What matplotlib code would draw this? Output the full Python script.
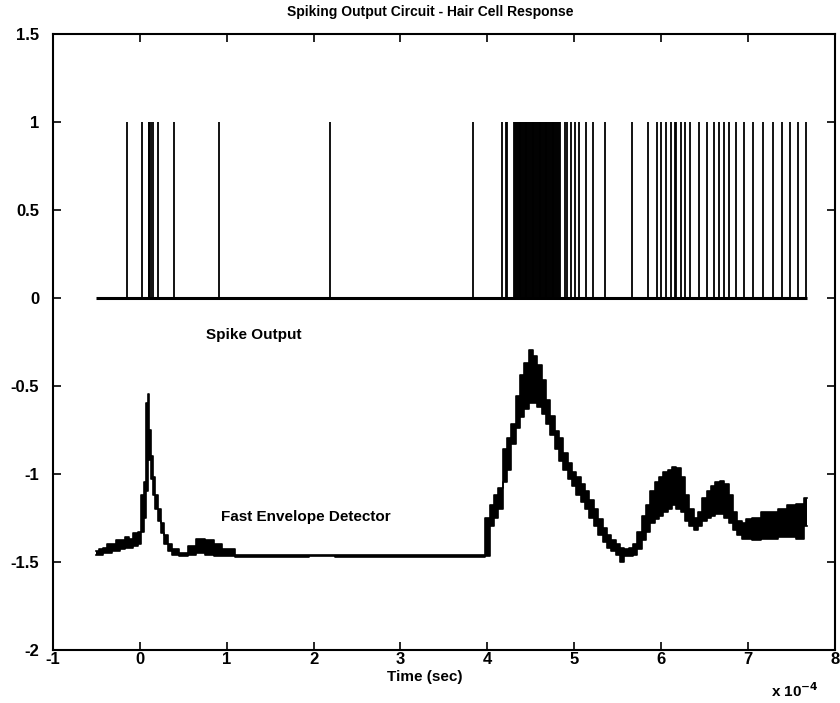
import numpy as np
import matplotlib
matplotlib.use("Agg")
import matplotlib.pyplot as plt

plt.rcParams['font.family'] = ['Liberation Sans', 'DejaVu Sans']
plt.rcParams['font.weight'] = 'bold'
plt.rcParams['axes.unicode_minus'] = False

# spike output (time in units of 1e-4 s)
spike_start = -0.5
spike_end = 7.68
spike_times = [
    -0.15, 0.02, 0.10, 0.11, 0.13, 0.155, 0.215, 0.39, 0.915, 2.19,
    3.84, 4.165, 4.21, 4.23,
    4.31, 4.32, 4.33, 4.34, 4.35, 4.36, 4.37, 4.38, 4.39, 4.40,
    4.41, 4.42, 4.43, 4.44, 4.45, 4.46, 4.47, 4.48, 4.49, 4.50,
    4.51, 4.52, 4.53, 4.54, 4.55, 4.56, 4.57, 4.58, 4.59, 4.60,
    4.61, 4.62, 4.63, 4.64, 4.65, 4.66, 4.67, 4.68, 4.69, 4.70,
    4.71, 4.72, 4.73, 4.74, 4.75, 4.76, 4.77, 4.78, 4.79, 4.80,
    4.81, 4.825, 4.84,
    4.895, 4.915, 4.96, 5.005, 5.055, 5.135, 5.215, 5.35, 5.665, 5.845,
    5.95, 6.0, 6.06, 6.11, 6.155, 6.17, 6.225, 6.275, 6.335, 6.435,
    6.525, 6.605, 6.66, 6.72, 6.78, 6.865, 6.95, 7.055, 7.17, 7.29,
    7.385, 7.48, 7.575, 7.67,
]
spike_height = 1.0

# fast envelope detector: lower / upper edge of the noisy trace
env_t = [
    -0.50, -0.45, -0.40, -0.35, -0.30, -0.25, -0.20, -0.15, -0.10, -0.05,
    0.00, 0.03, 0.06, 0.08, 0.10, 0.12, 0.14, 0.16, 0.19, 0.22,
    0.26, 0.30, 0.35, 0.40, 0.50, 0.60, 0.70, 0.80, 0.90, 1.00,
    1.20, 1.50, 1.80, 2.10, 2.40, 2.70, 3.00, 3.30, 3.60, 3.95,
    4.00, 4.05, 4.10, 4.15, 4.20, 4.25, 4.30, 4.35, 4.40, 4.45,
    4.50, 4.55, 4.60, 4.65, 4.70, 4.75, 4.80, 4.85, 4.90, 4.95,
    5.00, 5.05, 5.10, 5.15, 5.20, 5.25, 5.30, 5.35, 5.40, 5.45,
    5.50, 5.55, 5.60, 5.65, 5.70, 5.75, 5.80, 5.85, 5.90, 5.95,
    6.00, 6.05, 6.10, 6.15, 6.20, 6.25, 6.30, 6.35, 6.40, 6.45,
    6.50, 6.55, 6.60, 6.65, 6.70, 6.75, 6.80, 6.85, 6.90, 6.95,
    7.00, 7.10, 7.20, 7.30, 7.40, 7.50, 7.60, 7.68,
]
env_lo = [
    -1.46, -1.46, -1.45, -1.45, -1.44, -1.44, -1.43, -1.42, -1.42, -1.41,
    -1.40, -1.33, -1.25, -1.10, -0.75, -0.92, -1.03, -1.12, -1.20, -1.27,
    -1.34, -1.40, -1.44, -1.46, -1.47, -1.46, -1.45, -1.46, -1.47, -1.47,
    -1.475, -1.475, -1.475, -1.47, -1.475, -1.475, -1.475, -1.475, -1.475, -1.475,
    -1.47, -1.30, -1.25, -1.20, -1.05, -0.98, -0.83, -0.74, -0.68, -0.63,
    -0.60, -0.60, -0.62, -0.66, -0.72, -0.78, -0.86, -0.93, -0.98, -1.03,
    -1.07, -1.12, -1.16, -1.20, -1.25, -1.30, -1.35, -1.39, -1.42, -1.44,
    -1.46, -1.50, -1.47, -1.47, -1.46, -1.43, -1.38, -1.33, -1.28, -1.26,
    -1.24, -1.22, -1.20, -1.18, -1.20, -1.22, -1.27, -1.30, -1.32, -1.30,
    -1.27, -1.25, -1.24, -1.23, -1.23, -1.25, -1.28, -1.32, -1.35, -1.37,
    -1.37, -1.38, -1.37, -1.37, -1.36, -1.36, -1.37, -1.30,
]
env_hi = [
    -1.44, -1.43, -1.42, -1.40, -1.40, -1.38, -1.38, -1.36, -1.37, -1.34,
    -1.33, -1.12, -1.05, -0.60, -0.55, -0.75, -0.90, -1.02, -1.12, -1.20,
    -1.28, -1.35, -1.40, -1.43, -1.45, -1.41, -1.37, -1.38, -1.40, -1.43,
    -1.465, -1.465, -1.465, -1.46, -1.465, -1.465, -1.465, -1.465, -1.465, -1.46,
    -1.25, -1.18, -1.12, -1.08, -0.86, -0.80, -0.72, -0.56, -0.44, -0.37,
    -0.30, -0.33, -0.38, -0.47, -0.58, -0.67, -0.76, -0.80, -0.88, -0.94,
    -0.99, -1.02, -1.06, -1.10, -1.15, -1.20, -1.26, -1.31, -1.35, -1.38,
    -1.40, -1.42, -1.43, -1.42, -1.40, -1.33, -1.24, -1.18, -1.10, -1.05,
    -1.02, -0.99, -0.98, -0.96, -0.97, -1.02, -1.12, -1.20, -1.25, -1.22,
    -1.14, -1.10, -1.07, -1.05, -1.04, -1.06, -1.12, -1.22, -1.27, -1.28,
    -1.26, -1.25, -1.22, -1.22, -1.20, -1.18, -1.17, -1.14,
]

x_ticks = [-1, 0, 1, 2, 3, 4, 5, 6, 7, 8]
y_ticks = [-2, -1.5, -1, -0.5, 0, 0.5, 1, 1.5]
y_ticklabels = ['-2', '-1.5', '-1', '-0.5', '0', '0.5', '1', '1.5']

fig = plt.figure(figsize=(8.4, 7.03), dpi=100)
ax = fig.add_axes([0.063, 0.076, 0.931, 0.876])

# spike train
ax.hlines(0, spike_start, spike_end, color='black', lw=2.2)
ax.vlines(spike_times, 0, spike_height, color='black', lw=1.3)

# envelope trace
ax.fill_between(env_t, env_lo, env_hi, step='mid', color='black', lw=0)
ax.step(env_t, env_lo, where='mid', color='black', lw=1.2)
ax.step(env_t, env_hi, where='mid', color='black', lw=1.2)

ax.text(0.76, -0.215, 'Spike Output', fontsize=11, fontweight='bold',
        va='center', ha='left')
ax.text(0.93, -1.247, 'Fast Envelope Detector', fontsize=11,
        fontweight='bold', va='center', ha='left')

ax.set_xlim(-1, 8)
ax.set_ylim(-2, 1.5)
ax.set_xticks(x_ticks)
ax.set_yticks(y_ticks)
ax.set_yticklabels(y_ticklabels)
ax.tick_params(direction='in', length=6, width=1.2, top=True, right=True,
               labelsize=12)
ax.tick_params(axis='x', pad=2)
ax.tick_params(axis='y', pad=10)
for lab in ax.get_xticklabels() + ax.get_yticklabels():
    lab.set_fontweight('bold')
for s in ax.spines.values():
    s.set_linewidth(1.5)

fig.text(430 / 840, 1 - 12 / 703, 'Spiking Output Circuit - Hair Cell Response',
         ha='center', va='center', fontsize=10, fontweight='bold')
fig.text(425 / 840, 1 - 677 / 703, 'Time (sec)', ha='center', va='center',
         fontsize=11, fontweight='bold')
fig.text(795 / 840, 1 - 691 / 703, r'x 10$^{\mathbf{-4}}$', ha='center',
         va='center', fontsize=11, fontweight='bold')

fig.savefig('out.png', dpi=100, facecolor='white')
